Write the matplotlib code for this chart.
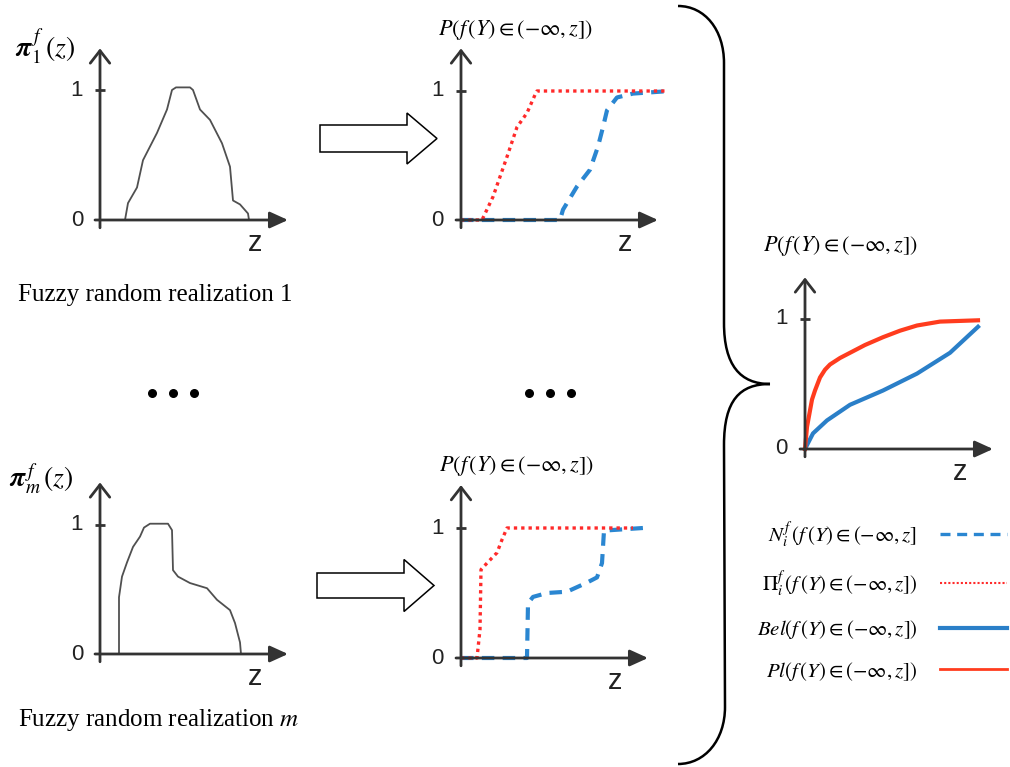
"""
Fuzzy random realizations -> CDF bounds -> Bel/Pl envelope (schematic).
"""

import matplotlib.pyplot as plt
from matplotlib.path import Path
from matplotlib.patches import PathPatch, FancyArrow
from matplotlib.lines import Line2D

plt.rcParams['mathtext.fontset'] = 'stix'
plt.rcParams['font.family'] = ['Liberation Serif', 'DejaVu Serif']

# ---------------------------------------------------------------------------
W, H = 1010, 767          # figure size in px
PX = 10.0                 # px per z unit
AX_COL = "#333333"
GRAY = "#505050"
RED = "#ff2a2a"
BLUE = "#2a86d1"
RED5 = "#ff3c1e"
BLUE5 = "#2a7fc8"
# ---------------------------------------------------------------------------

# realization 1: membership function
z_m1 = [2.5, 2.8, 3.7, 4.3, 5.7, 6.7, 7.2, 7.6, 9.0, 9.3, 10.0, 11.0, 12.2, 13.0, 13.3, 14.0, 14.8, 14.9]
pi_m1 = [0.0, 0.13, 0.25, 0.46, 0.67, 0.85, 1.0, 1.02, 1.02, 1.0, 0.85, 0.77, 0.59, 0.41, 0.15, 0.12, 0.05, 0.0]

# realization 1: necessity / possibility of f(Y) <= z
z_pos1 = [0.0, 2.1, 3.2, 4.6, 5.6, 6.6, 7.4, 7.6, 20.4]
p_pos1 = [0.0, 0.0, 0.18, 0.49, 0.72, 0.83, 0.97, 1.0, 1.0]
z_nec1 = [0.0, 9.9, 10.2, 11.6, 12.9, 13.7, 14.2, 14.6, 15.6, 17.2, 20.9]
p_nec1 = [0.0, 0.0, 0.08, 0.26, 0.39, 0.57, 0.72, 0.85, 0.95, 0.98, 1.0]

# realization m: membership function
z_mm = [1.9, 1.9, 2.2, 2.7, 3.3, 4.0, 4.4, 5.0, 6.8, 7.2, 7.3, 7.8, 9.0, 10.7, 11.7, 13.0, 13.5, 14.0, 14.1]
pi_mm = [0.0, 0.44, 0.60, 0.71, 0.83, 0.91, 0.98, 1.01, 1.01, 0.96, 0.65, 0.60, 0.55, 0.51, 0.42, 0.34, 0.24, 0.09, 0.0]

# realization m: necessity / possibility
z_posm = [0.0, 1.6, 1.9, 2.0, 2.6, 3.6, 4.1, 4.6, 17.2]
p_posm = [0.0, 0.0, 0.22, 0.68, 0.73, 0.81, 0.91, 1.0, 1.0]
z_necm = [0.0, 6.6, 6.7, 7.2, 8.6, 10.6, 12.6, 13.6, 14.1, 14.3, 18.2]
p_necm = [0.0, 0.0, 0.42, 0.47, 0.50, 0.51, 0.58, 0.62, 0.73, 0.98, 1.0]

# aggregated belief / plausibility
z_pl = [0.0, 0.2, 0.7, 1.0, 1.5, 2.0, 2.5, 3.5, 4.5, 6.0, 7.8, 9.5, 11.2, 13.5, 17.3]
p_pl = [0.0, 0.17, 0.38, 0.45, 0.55, 0.61, 0.65, 0.70, 0.74, 0.80, 0.86, 0.91, 0.95, 0.98, 0.99]
z_bel = [0.0, 0.8, 2.2, 4.5, 7.8, 11.2, 14.5, 17.3]
p_bel = [0.0, 0.12, 0.22, 0.34, 0.45, 0.58, 0.74, 0.94]

PTITLE = r"$P\left(f\,(Y)\in\left(-\infty,z\right]\right)$"
LEG_LABELS = [r"$N_i^f\,\left(f\,(Y)\in\left(-\infty,z\right]\right.$",
              r"$\Pi_i^f\,\left(f\,(Y)\in\left(-\infty,z\right]\right)$",
              r"$Bel\left(f\,(Y)\in\left(-\infty,z\right]\right)$",
              r"$Pl\left(f\,(Y)\in\left(-\infty,z\right]\right)$"]

fig = plt.figure(figsize=(W / 100, H / 100), dpi=100)

# background axes in pixel coordinates for the decorations
bg = fig.add_axes([0, 0, 1, 1])
bg.set_xlim(0, W)
bg.set_ylim(H, 0)
bg.axis("off")


def make_panel(ox, oy, unit, xtip, ytip, zmax=None):
    """Axes with origin at pixel (ox, oy); 1 y-unit = `unit` px, 1 z-unit = PX px."""
    zmax = max(xtip, zmax or 0) + 0.5
    left, right = ox - 2 * PX, ox + zmax * PX
    top, bottom = oy - (ytip + 0.05) * unit, oy + 0.3 * unit
    ax = fig.add_axes([left / W, 1 - bottom / H, (right - left) / W, (bottom - top) / H])
    ax.set_xlim(-2, zmax)
    ax.set_ylim(-0.3, ytip + 0.05)
    ax.axis("off")
    # y axis, open arrow head
    ax.annotate("", xy=(0, ytip), xytext=(0, -0.06),
                arrowprops=dict(arrowstyle="->,head_length=0.45,head_width=0.35",
                                lw=2, color=AX_COL, mutation_scale=20,
                                shrinkA=0, shrinkB=0))
    # x axis, filled arrow head
    ax.annotate("", xy=(xtip, 0), xytext=(-0.5, 0),
                arrowprops=dict(arrowstyle="-|>,head_length=0.55,head_width=0.25",
                                lw=2, color=AX_COL, mutation_scale=20,
                                shrinkA=0, shrinkB=0))
    ax.plot([-0.5, 0.5], [1, 1], color=AX_COL, lw=2, solid_capstyle="butt")
    for v in (0, 1):
        ax.text(-1.7, v, str(v), ha="right", va="center", family="Liberation Sans",
                fontsize=16, color="#222222")
    ax.text(xtip - 3.3, -0.18, "z", ha="center", va="center", family="Liberation Sans",
            fontsize=21, color="#222222")
    return ax


# --- realization 1 ---------------------------------------------------------
a1 = make_panel(100, 220, 130, 18.8, 1.32)
a1.plot(z_m1, pi_m1, color=GRAY, lw=1.3)
a1.text(-5.5, 1.33, r"$\mathbfit{\pi}_1^{\,f}\,(z)$", ha="center", va="center", fontsize=20)
bg.text(18, 295, "Fuzzy random realization 1", ha="left", va="center", fontsize=18)

a2 = make_panel(461, 220, 129, 19.7, 1.33, zmax=21)
a2.plot(z_nec1, p_nec1, color=BLUE, lw=3, dashes=(3, 2))
a2.plot(z_pos1, p_pos1, color=RED, lw=2.4, linestyle=(0, (1, 1.2)))
a2.text(5.5, 1.47, PTITLE, ha="center", va="center", fontsize=16)

# --- realization m ---------------------------------------------------------
a3 = make_panel(100, 654, 129, 18.8, 1.33)
a3.plot(z_mm, pi_mm, color=GRAY, lw=1.3)
a3.text(-5.9, 1.35, r"$\mathbfit{\pi}_m^{\,f}\,(z)$", ha="center", va="center", fontsize=20)
bg.text(18, 720, "Fuzzy random realization $m$", ha="left", va="center", fontsize=18)

a4 = make_panel(461, 658, 130, 18.7, 1.33)
a4.plot(z_necm, p_necm, color=BLUE, lw=3, dashes=(3, 2))
a4.plot(z_posm, p_posm, color=RED, lw=2.4, linestyle=(0, (1, 1.2)))
a4.text(5.6, 1.48, PTITLE, ha="center", va="center", fontsize=16)

# --- aggregated ------------------------------------------------------------
a5 = make_panel(805, 449, 130, 18.8, 1.32)
a5.plot(z_bel, p_bel, color=BLUE5, lw=3)
a5.plot(z_pl, p_pl, color=RED5, lw=3)
a5.text(3.6, 1.56, PTITLE, ha="center", va="center", fontsize=16)

handles = [Line2D([], [], color=BLUE, lw=2.4, dashes=(3, 2)),
           Line2D([], [], color=RED, lw=1.5, linestyle=(0, (1, 1))),
           Line2D([], [], color=BLUE5, lw=3),
           Line2D([], [], color=RED5, lw=2)]
fig.legend(handles, LEG_LABELS, loc="upper right", bbox_to_anchor=(1007 / W, 1 - 519 / H),
           frameon=False, markerfirst=False, fontsize=15, handlelength=3.2,
           handletextpad=1.1, labelspacing=0.9, borderpad=0, borderaxespad=0)

# --- decorations: block arrows, ellipses, brace ----------------------------
for x0, yc, wd, hw in [(320, 138.5, 27, 51), (317, 585.5, 25, 52)]:
    bg.add_patch(FancyArrow(x0, yc, 117, 0, width=wd, head_width=hw, head_length=30,
                            length_includes_head=True, facecolor="white",
                            edgecolor="black", lw=1.1))

bg.scatter([152, 173, 194, 529, 550, 571], [393] * 6, s=30, color="black")

brace = Path([(678, 6), (705, 6), (724, 30), (724, 63),
              (724, 323),
              (724, 365), (740, 384), (770, 384),
              (740, 384), (724, 400), (724, 445),
              (725, 707),
              (725, 740), (705, 764), (678, 764)],
             [Path.MOVETO, Path.CURVE4, Path.CURVE4, Path.CURVE4,
              Path.LINETO,
              Path.CURVE4, Path.CURVE4, Path.CURVE4,
              Path.CURVE4, Path.CURVE4, Path.CURVE4,
              Path.LINETO,
              Path.CURVE4, Path.CURVE4, Path.CURVE4])
bg.add_patch(PathPatch(brace, facecolor="none", edgecolor="black", lw=1.8))

fig.savefig("out.png", dpi=100)
